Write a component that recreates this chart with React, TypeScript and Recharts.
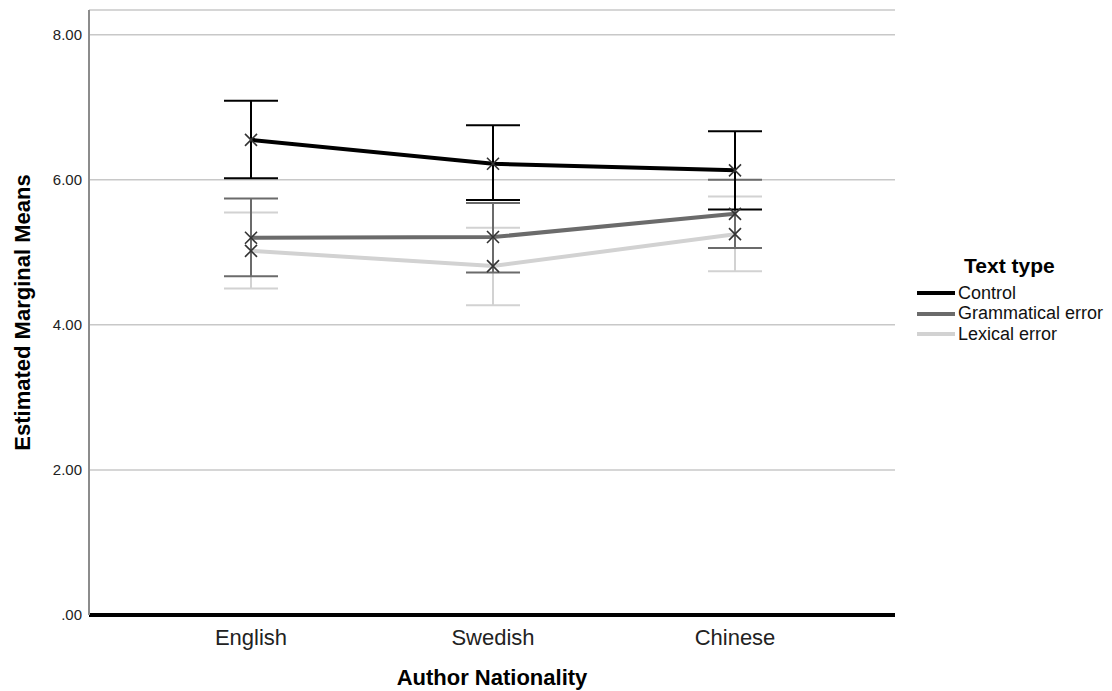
import { LineChart, Line, XAxis, YAxis, CartesianGrid, ErrorBar, Legend } from 'recharts'

const FONT = '"Liberation Sans", Arial, Helvetica, sans-serif'

// Author nationality categories
const nationalities = ['English', 'Swedish', 'Chinese']

// Estimated marginal means with 95% CI bounds, per text type
const controlMean = [6.55, 6.22, 6.13]
const controlLow = [6.02, 5.72, 5.59]
const controlHigh = [7.09, 6.75, 6.67]

const grammarMean = [5.2, 5.21, 5.53]
const grammarLow = [4.67, 4.72, 5.06]
const grammarHigh = [5.74, 5.68, 6.0]

const lexicalMean = [5.02, 4.81, 5.25]
const lexicalLow = [4.5, 4.27, 4.74]
const lexicalHigh = [5.55, 5.34, 5.77]

const yTicks = [0, 2, 4, 6, 8]

const SERIES = [
  { key: 'lexical', name: 'Lexical error', color: '#d2d2d2' },
  { key: 'grammar', name: 'Grammatical error', color: '#6b6b6b' },
  { key: 'control', name: 'Control', color: '#000000' },
]

const data = nationalities.map((n, i) => ({
  nationality: n,
  control: controlMean[i],
  controlErr: [controlMean[i] - controlLow[i], controlHigh[i] - controlMean[i]],
  grammar: grammarMean[i],
  grammarErr: [grammarMean[i] - grammarLow[i], grammarHigh[i] - grammarMean[i]],
  lexical: lexicalMean[i],
  lexicalErr: [lexicalMean[i] - lexicalLow[i], lexicalHigh[i] - lexicalMean[i]],
}))

function CrossDot(props: { cx?: number; cy?: number; index?: number; dataKey?: string }) {
  const { cx, cy } = props
  if (cx == null || cy == null) return null
  const r = 6
  return (
    <g key={`${props.dataKey}-${props.index}`}>
      <line x1={cx - r} y1={cy - r} x2={cx + r} y2={cy + r} stroke="#333" strokeWidth={1.6} />
      <line x1={cx - r} y1={cy + r} x2={cx + r} y2={cy - r} stroke="#333" strokeWidth={1.6} />
    </g>
  )
}

function LegendBox() {
  const items = [...SERIES].reverse()
  return (
    <div style={{ fontFamily: FONT, color: '#000' }}>
      <div style={{ fontWeight: 700, fontSize: 21, marginLeft: 47, lineHeight: '24px', marginBottom: 5 }}>
        Text type
      </div>
      {items.map((s) => (
        <div key={s.key} style={{ display: 'flex', alignItems: 'center', height: 20.5 }}>
          <span style={{ width: 38, height: 4, background: s.color, marginRight: 3 }} />
          <span style={{ fontSize: 18, color: '#111' }}>{s.name}</span>
        </div>
      ))}
    </div>
  )
}

export default function App() {
  return (
    <div style={{ position: 'absolute', left: 0, top: 0, background: '#fff' }}>
      <LineChart
        width={1112}
        height={691}
        data={data}
        margin={{ top: 10, right: 217, bottom: 0, left: 0 }}
      >
        <CartesianGrid vertical={false} stroke="#c8c8c8" strokeWidth={1.5} />
        <XAxis
          dataKey="nationality"
          height={76}
          padding={{ left: 162, right: 160 }}
          tickLine={false}
          tickSize={0}
          tickMargin={14}
          axisLine={{ stroke: '#000', strokeWidth: 4 }}
          tick={{ fill: '#222', fontSize: 22, fontFamily: FONT }}
          label={{
            value: 'Author Nationality',
            position: 'insideBottom',
            offset: 6,
            style: { fontWeight: 700, fontSize: 22, fontFamily: FONT, fill: '#000' },
          }}
        />
        <YAxis
          width={89}
          domain={[0, 8.34]}
          ticks={yTicks}
          tickFormatter={(v: number) => (v === 0 ? '.00' : v.toFixed(2))}
          tickLine={false}
          tickSize={0}
          tickMargin={7}
          axisLine={{ stroke: '#8c8c8c', strokeWidth: 2 }}
          tick={{ fill: '#222', fontSize: 15, fontFamily: FONT }}
          label={{
            value: 'Estimated Marginal Means',
            angle: -90,
            position: 'insideLeft',
            offset: 22,
            style: { textAnchor: 'middle', fontWeight: 700, fontSize: 22, fontFamily: FONT, fill: '#000' },
          }}
        />
        <Legend
          layout="horizontal"
          align="center"
          verticalAlign="middle"
          content={() => <LegendBox />}
          wrapperStyle={{ left: 917, top: 254, width: 195 }}
        />
        {SERIES.map((s) => (
          <Line
            key={s.key}
            type="linear"
            dataKey={s.key}
            name={s.name}
            stroke={s.color}
            strokeWidth={4}
            dot={(p: any) => <CrossDot {...p} dataKey={s.key} />}
            activeDot={false}
            isAnimationActive={false}
          >
            <ErrorBar dataKey={`${s.key}Err`} width={27} stroke={s.color} strokeWidth={2} direction="y" />
          </Line>
        ))}
      </LineChart>
    </div>
  )
}
